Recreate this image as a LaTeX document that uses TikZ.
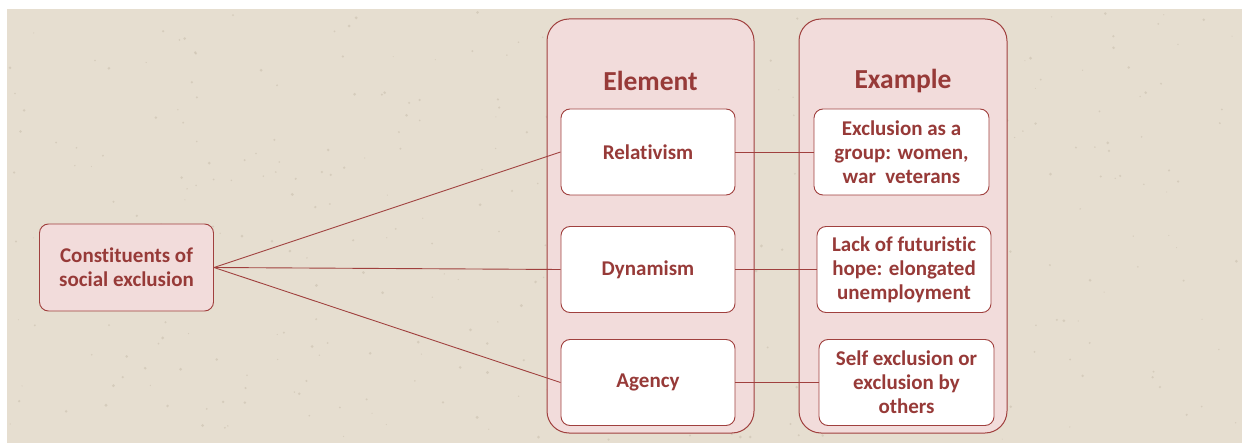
\documentclass[tikz,border=0pt]{standalone}
\usepackage{fontspec}
\setmainfont{Carlito}[RawFeature=-liga]
\definecolor{paper}{HTML}{E6DED0}
\definecolor{speck}{HTML}{CFC5B4}
\definecolor{wine}{HTML}{A0403E}
\definecolor{winetext}{HTML}{973A38}
\definecolor{blush}{HTML}{F2DCDB}
\tikzset{
  panel/.style={draw=wine, line width=1pt, fill=blush, rounded corners=22pt},
  itembox/.style={draw=wine, line width=0.9pt, fill=white, rounded corners=9pt,
    minimum width=174pt, minimum height=86pt, inner sep=2pt, align=center,
    text=winetext, font=\fontsize{21}{24}\selectfont\bfseries},
  rootbox/.style={itembox, fill=blush, minimum width=174pt, minimum height=87pt},
  heading/.style={text=winetext, font=\fontsize{27.5}{32}\selectfont\bfseries},
  link/.style={draw=wine, line width=0.9pt},
}
\begin{document}
\begin{tikzpicture}[x=1pt, y=-1pt]
\useasboundingbox (0,0) rectangle (1242,446);
% paper background with a light speckle
\fill[white] (0,0) rectangle (1242,446);
\fill[paper] (7,9) rectangle (1242,443);
\pgfmathsetseed{7}
\foreach \i in {1,...,420}{
  \pgfmathsetmacro{\px}{10+1228*rnd}
  \pgfmathsetmacro{\py}{12+428*rnd}
  \pgfmathsetmacro{\pr}{0.5+1.1*rnd}
  \fill[speck, opacity=0.7] (\px,\py) circle[radius=\pr];
}
% column panels
\draw[panel] (547,19) rectangle (754,433);
\draw[panel] (799,19) rectangle (1007,433);
\node[heading] (elemhead) at (650.5,81) {Element};
\node[heading] (examhead) at (903,81) {Example};
% root
\node[rootbox] (root) at (126.5,267.5) {Constituents of\\social exclusion};
% elements
\node[itembox] (rel) at (648,152) {Relativism};
\node[itembox] (dyn) at (648,269.5) {Dynamism};
\node[itembox] (agy) at (648,382.5) {Agency};
% examples
\node[itembox, minimum width=175pt] (ex1) at (901.5,152) {Exclusion as a\\group: women,\\war\ \ veterans};
\node[itembox] (ex2) at (904,269.5) {Lack of futuristic\\hope: elongated\\unemployment};
\node[itembox, minimum width=175pt] (ex3) at (906.5,382.5) {Self exclusion or\\exclusion by\\others};
% connectors
\coordinate (fan) at (root.east);
\draw[link] (fan) -- (rel.west);
\draw[link] (fan) -- (dyn.west);
\draw[link] (fan) -- (agy.west);
\draw[link] (rel.east) -- (ex1.west);
\draw[link] (dyn.east) -- (ex2.west);
\draw[link] (agy.east) -- (ex3.west);
\end{tikzpicture}
\end{document}
